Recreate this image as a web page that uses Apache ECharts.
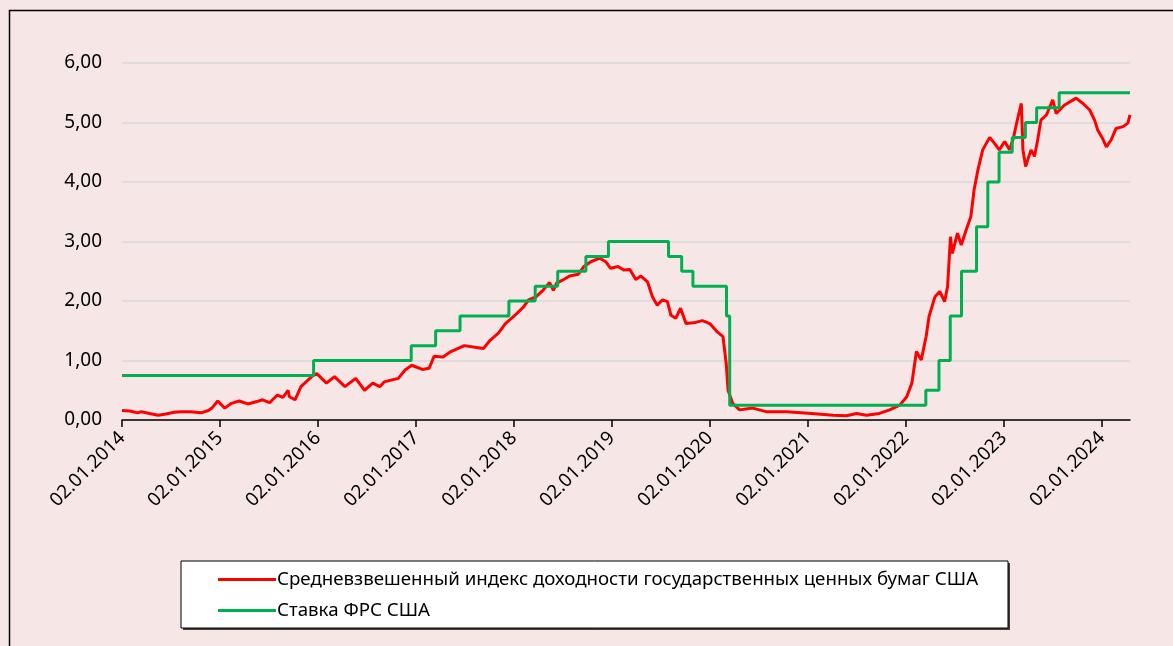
<!DOCTYPE html>
<html>
<head>
<meta charset="utf-8">
<script src="https://cdn.jsdelivr.net/npm/echarts@6/dist/echarts.min.js"></script>
<style>
  html, body { margin: 0; padding: 0; background: #f6e6e6; }
  #chart { width: 1173px; height: 646px; }
</style>
</head>
<body>
<div id="chart"></div>
<script>
// tick labels on the date axis
const xTickLabels = ['02.01.2014', '02.01.2015', '02.01.2016', '02.01.2017', '02.01.2018', '02.01.2019',
  '02.01.2020', '02.01.2021', '02.01.2022', '02.01.2023', '02.01.2024'];

// weighted average yield of US treasuries (red)
const yieldDates = [
  '2014-01-02', '2014-02-01', '2014-03-01', '2014-03-15', '2014-04-15', '2014-05-17', '2014-06-15', '2014-07-15', '2014-08-12',
  '2014-09-15', '2014-10-24', '2014-11-20', '2014-12-03', '2014-12-25',
  '2015-01-20', '2015-02-14', '2015-03-15', '2015-04-16', '2015-05-20', '2015-06-10', '2015-07-06', '2015-08-04',
  '2015-08-25', '2015-09-13', '2015-09-18', '2015-10-09', '2015-10-31', '2015-12-10', '2015-12-29',
  '2016-02-03', '2016-03-04', '2016-04-12', '2016-05-22', '2016-06-24', '2016-07-25', '2016-08-20', '2016-09-05', '2016-10-28',
  '2016-11-22', '2016-12-17',
  '2017-01-25', '2017-02-20', '2017-03-10', '2017-04-12', '2017-05-12', '2017-07-01', '2017-08-15', '2017-09-10',
  '2017-10-05', '2017-11-05', '2017-12-01',
  '2018-01-01', '2018-02-07', '2018-02-25', '2018-03-25', '2018-04-20', '2018-05-15', '2018-05-29', '2018-06-10',
  '2018-07-02', '2018-07-28', '2018-08-30', '2018-09-20', '2018-10-15', '2018-11-18', '2018-12-10', '2018-12-28',
  '2019-01-25', '2019-02-15', '2019-03-10', '2019-04-01', '2019-04-20', '2019-05-15', '2019-06-02', '2019-06-20',
  '2019-07-10', '2019-07-28', '2019-08-10', '2019-08-28', '2019-09-15', '2019-10-05', '2019-11-10', '2019-12-05',
  '2020-01-02', '2020-01-30', '2020-02-20', '2020-03-03', '2020-03-10', '2020-03-27', '2020-04-22', '2020-06-10',
  '2020-07-30', '2020-10-15',
  '2021-01-15', '2021-04-05', '2021-05-25', '2021-07-02', '2021-08-08', '2021-09-25', '2021-11-02', '2021-12-10',
  '2022-01-05', '2022-01-24', '2022-02-10', '2022-02-28', '2022-03-18', '2022-03-29', '2022-04-20', '2022-05-08',
  '2022-05-26', '2022-06-06', '2022-06-17', '2022-06-24', '2022-07-13', '2022-07-27', '2022-08-14', '2022-09-01',
  '2022-09-13', '2022-09-27', '2022-10-15', '2022-11-10', '2022-11-28', '2022-12-16',
  '2023-01-05', '2023-01-23', '2023-02-06', '2023-02-24', '2023-03-08', '2023-03-14', '2023-03-24', '2023-04-13',
  '2023-04-26', '2023-05-08', '2023-05-20', '2023-06-10', '2023-07-03', '2023-07-16', '2023-08-15', '2023-09-28',
  '2023-10-24', '2023-11-18', '2023-12-06', '2023-12-18',
  '2024-01-05', '2024-01-19', '2024-02-06', '2024-02-24', '2024-03-21', '2024-04-08', '2024-04-16'
];
const yieldValues = [
  0.16, 0.15, 0.12, 0.14, 0.11, 0.08, 0.10, 0.13, 0.14,
  0.14, 0.12, 0.16, 0.20, 0.32,
  0.20, 0.28, 0.32, 0.27, 0.31, 0.34, 0.29, 0.42,
  0.38, 0.50, 0.39, 0.34, 0.56, 0.73, 0.78,
  0.62, 0.73, 0.56, 0.70, 0.50, 0.62, 0.56, 0.64, 0.70,
  0.84, 0.92,
  0.85, 0.87, 1.07, 1.06, 1.15, 1.25, 1.22, 1.20,
  1.34, 1.46, 1.62,
  1.74, 1.90, 2.02, 2.07, 2.18, 2.31, 2.18, 2.30,
  2.35, 2.42, 2.45, 2.58, 2.66, 2.72, 2.66, 2.55,
  2.58, 2.52, 2.53, 2.36, 2.42, 2.32, 2.07, 1.93,
  2.02, 1.99, 1.76, 1.71, 1.88, 1.62, 1.64, 1.67,
  1.62, 1.48, 1.40, 0.95, 0.50, 0.28, 0.17, 0.20,
  0.14, 0.14,
  0.11, 0.08, 0.07, 0.11, 0.08, 0.11, 0.17, 0.25,
  0.39, 0.62, 1.15, 1.01, 1.40, 1.74, 2.07, 2.16,
  1.99, 2.24, 3.08, 2.80, 3.14, 2.94, 3.19, 3.42,
  3.87, 4.20, 4.54, 4.75, 4.65, 4.54,
  4.68, 4.54, 4.73, 5.10, 5.32, 4.54, 4.26, 4.54,
  4.43, 4.71, 5.04, 5.13, 5.38, 5.15, 5.29, 5.41,
  5.32, 5.21, 5.04, 4.87,
  4.73, 4.59, 4.71, 4.90, 4.93, 4.99, 5.13
];

// Fed rate (green), value from each date on
const fedDates = [
  '2014-01-02', '2015-12-17', '2016-12-15', '2017-03-16', '2017-06-15', '2017-12-14', '2018-03-22', '2018-06-14',
  '2018-09-27', '2018-12-20', '2019-08-01', '2019-09-19', '2019-10-31', '2020-03-04', '2020-03-16', '2022-03-17',
  '2022-05-05', '2022-06-16', '2022-07-28', '2022-09-22', '2022-11-03', '2022-12-15', '2023-02-02', '2023-03-23',
  '2023-05-04', '2023-07-27', '2024-04-16'
];
const fedValues = [
  0.75, 1.00, 1.25, 1.50, 1.75, 2.00, 2.25, 2.50,
  2.75, 3.00, 2.75, 2.50, 2.25, 1.75, 0.25, 0.50,
  1.00, 1.75, 2.50, 3.25, 4.00, 4.50, 4.75, 5.00,
  5.25, 5.50, 5.50
];

const yieldName = 'Средневзвешенный индекс доходности государственных ценных бумаг США';
const fedName = 'Ставка ФРС США';

function isoTime(s) {
  const p = s.split('-');
  return Date.UTC(+p[0], +p[1] - 1, +p[2]);
}
function labelTime(label) {
  const p = label.split('.');
  return Date.UTC(+p[2], +p[1] - 1, +p[0]);
}
const tickTimes = xTickLabels.map(labelTime);

const chart = echarts.init(document.getElementById('chart'));
const font = 'Noto Sans';

const option = {
  backgroundColor: '#f6e6e6',
  animation: false,
  textStyle: { fontFamily: font },
  graphic: [
    {
      type: 'rect', z: -10, silent: true,
      shape: { x: 9.5, y: 10.5, width: 1200, height: 700 },
      style: { fill: 'none', stroke: '#000', lineWidth: 1.5 }
    },
    {
      type: 'rect', z: -5, silent: true,
      shape: { x: 183, y: 563, width: 827, height: 67 },
      style: { fill: '#404040' }
    },
    {
      type: 'rect', z: -4, silent: true,
      shape: { x: 181, y: 561, width: 827, height: 67 },
      style: { fill: '#fff', stroke: '#000', lineWidth: 1 }
    }
  ],
  grid: { left: 122, right: 43, top: 63, bottom: 226, containLabel: false },
  legend: {
    orient: 'vertical',
    left: 213,
    top: 565,
    itemWidth: 58,
    itemHeight: 3,
    itemGap: 12,
    icon: 'rect',
    textStyle: { fontFamily: font, fontSize: 18.7, color: '#000', padding: [0, 0, 0, -4] },
    data: [yieldName, fedName]
  },
  xAxis: {
    type: 'value',
    min: isoTime('2014-01-02'),
    max: isoTime('2024-04-16'),
    axisLine: { show: true, lineStyle: { color: '#000', width: 1.5 } },
    axisTick: { show: true, inside: false, length: 7, customValues: tickTimes, lineStyle: { color: '#000', width: 1.5 } },
    splitLine: { show: false },
    axisLabel: {
      customValues: tickTimes,
      rotate: 45,
      margin: 15,
      fontSize: 19,
      color: '#000',
      fontFamily: font,
      formatter: function (v) {
        let best = 0;
        tickTimes.forEach(function (t, i) {
          if (Math.abs(t - v) < Math.abs(tickTimes[best] - v)) best = i;
        });
        return xTickLabels[best];
      }
    }
  },
  yAxis: {
    type: 'value',
    min: 0,
    max: 6,
    interval: 1,
    axisLine: { show: false },
    axisTick: { show: false },
    splitLine: { lineStyle: { color: '#d9d9d9', width: 1.5 } },
    axisLabel: {
      margin: 20,
      fontSize: 19,
      color: '#000',
      fontFamily: font,
      formatter: function (v) { return v.toFixed(2).replace('.', ','); }
    }
  },
  series: [
    {
      name: yieldName,
      type: 'line',
      showSymbol: false,
      data: yieldDates.map(function (d, i) { return [isoTime(d), yieldValues[i]]; }),
      lineStyle: { color: '#ff0000', width: 3 },
      itemStyle: { color: '#ff0000' }
    },
    {
      name: fedName,
      type: 'line',
      step: 'end',
      showSymbol: false,
      data: fedDates.map(function (d, i) { return [isoTime(d), fedValues[i]]; }),
      lineStyle: { color: '#00b050', width: 3 },
      itemStyle: { color: '#00b050' }
    }
  ]
};

chart.setOption(option);
</script>
</body>
</html>
